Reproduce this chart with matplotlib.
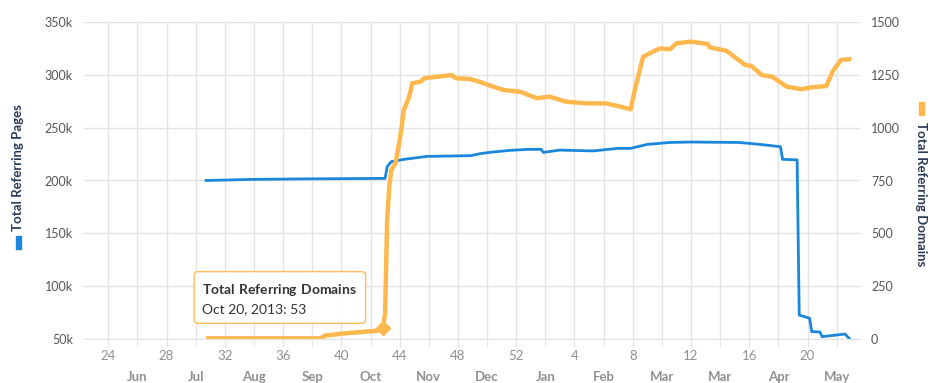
import pandas as pd
import matplotlib
matplotlib.use('Agg')
import matplotlib.pyplot as plt
from matplotlib.patches import Rectangle
from matplotlib.ticker import FuncFormatter, FixedLocator, MultipleLocator
import matplotlib.dates as mdates

plt.rcParams['font.family'] = ['Lato', 'DejaVu Sans']
plt.rcParams['mathtext.fontset'] = 'custom'
plt.rcParams['mathtext.bf'] = 'Lato:bold'
plt.rcParams['mathtext.rm'] = 'Lato'

# Total Referring Pages (left axis)
pages_dates = ['2013-07-27', '2013-08-17', '2013-09-10', '2013-10-21', '2013-10-22',
               '2013-10-24', '2013-10-30', '2013-11-10', '2013-12-01', '2013-12-06',
               '2013-12-12', '2013-12-20', '2013-12-28', '2014-01-04', '2014-01-05',
               '2014-01-13', '2014-01-22', '2014-01-29', '2014-02-10', '2014-02-16',
               '2014-02-24', '2014-03-07', '2014-03-17', '2014-04-09', '2014-04-19',
               '2014-04-29', '2014-04-30', '2014-05-07', '2014-05-08', '2014-05-13',
               '2014-05-14', '2014-05-18', '2014-05-19', '2014-05-30', '2014-06-01']
pages_vals = [200000, 201000, 201500, 202000, 213000,
              217800, 220000, 222800, 223500, 225500,
              227000, 228500, 229400, 229500, 226600,
              228800, 228300, 228000, 230400, 230400,
              234200, 236000, 236400, 236000, 234200,
              232000, 220000, 219500, 72700, 69600,
              57000, 56600, 52200, 54700, 50600]

# Total Referring Domains (right axis)
domains_dates = ['2013-07-28', '2013-09-20', '2013-09-22', '2013-10-02', '2013-10-12',
                 '2013-10-18', '2013-10-20', '2013-10-21', '2013-10-22', '2013-10-23',
                 '2013-10-24', '2013-10-26', '2013-10-28', '2013-10-29', '2013-10-30',
                 '2013-11-01', '2013-11-02', '2013-11-03', '2013-11-07', '2013-11-09',
                 '2013-11-15', '2013-11-22', '2013-11-24', '2013-12-01',
                 '2013-12-06', '2013-12-12', '2013-12-17', '2013-12-25', '2014-01-02',
                 '2014-01-08', '2014-01-16', '2014-01-26', '2014-02-04', '2014-02-10',
                 '2014-02-16', '2014-02-18', '2014-02-22', '2014-03-02', '2014-03-07',
                 '2014-03-10', '2014-03-17', '2014-03-25', '2014-03-26', '2014-04-03',
                 '2014-04-12', '2014-04-15', '2014-04-20', '2014-04-25', '2014-05-02',
                 '2014-05-09', '2014-05-14', '2014-05-21', '2014-05-24', '2014-05-28',
                 '2014-06-01']
domains_vals = [3, 3, 16, 27, 35,
                40, 53, 120, 560, 720,
                800, 831, 942, 1005, 1084,
                1131, 1163, 1210, 1218, 1234,
                1241, 1249, 1234, 1230,
                1215, 1194, 1178, 1170, 1139,
                1147, 1123, 1115, 1115, 1102,
                1087, 1178, 1336, 1375, 1371,
                1399, 1407, 1396, 1380, 1364,
                1297, 1292, 1249, 1241, 1194,
                1182, 1191, 1197, 1265, 1320,
                1324]

week_labels = ['24', '28', '32', '36', '40', '44', '48', '52', '4', '8', '12', '16', '20']
month_labels = ['Jun', 'Jul', 'Aug', 'Sep', 'Oct', 'Nov', 'Dec', 'Jan', 'Feb', 'Mar', 'Mar', 'Apr', 'May']

tip_date = '2013-10-20'
tip_val = 53

blue = '#1a87dc'
orange = '#ffb84d'
grid_c = '#e3e3e3'
title_c = '#2b3a55'

fig = plt.figure(figsize=(9.46, 3.83), dpi=100)
ax = fig.add_axes([84 / 946, 44 / 383, 776 / 946, 317 / 383])
ax2 = ax.twinx()

ax.plot(pd.to_datetime(pages_dates), pages_vals, color=blue, lw=2, solid_joinstyle='round')
ax2.plot(pd.to_datetime(domains_dates), domains_vals, color=orange, lw=3.2, solid_joinstyle='round')
ax2.plot(pd.to_datetime([tip_date]), [tip_val], marker='D', color=orange, ms=7)

ax.set_xlim(pd.Timestamp('2013-05-29 08:00'), pd.Timestamp('2014-06-06 05:00'))
ax.set_ylim(50000, 350000)
ax2.set_ylim(0, 1500)
ax.yaxis.set_major_locator(MultipleLocator(50000))
ax2.yaxis.set_major_locator(MultipleLocator(250))
ax.yaxis.set_major_formatter(FuncFormatter(lambda v, p: f'{int(v / 1000)}k'))

week_pos = mdates.date2num(pd.date_range('2013-06-10', periods=len(week_labels), freq='28D'))
month_pos = mdates.date2num(pd.date_range('2013-06-24', periods=len(month_labels), freq='28D'))
ax.xaxis.set_major_locator(FixedLocator(week_pos))
ax.xaxis.set_minor_locator(FixedLocator(month_pos))
ax.set_xticklabels(week_labels)
ax.set_xticklabels(month_labels, minor=True)
for lab in ax.get_xticklabels(minor=True):
    lab.set_fontweight('bold')

ax.grid(True, which='both', color=grid_c, lw=1)
ax.set_axisbelow(True)
for a in (ax, ax2):
    for s in a.spines.values():
        s.set_visible(False)
ax.spines['bottom'].set_visible(True)
ax.spines['bottom'].set_color(grid_c)

ax.tick_params(axis='x', which='major', length=6, color=grid_c, labelcolor='#909090', labelsize=9.5, pad=2)
ax.tick_params(axis='x', which='minor', length=6, color=grid_c, labelcolor='#909090', labelsize=9.5, pad=17)
ax.tick_params(axis='y', length=0, labelcolor='#555555', labelsize=9, pad=8)
ax2.tick_params(axis='y', length=0, labelcolor='#555555', labelsize=9, pad=8)

fig.text(18 / 946, 1 - 168 / 383, 'Total Referring Pages', rotation=90, ha='center', va='center',
         fontsize=9.5, fontweight='bold', color=title_c)
fig.text(921 / 946, 1 - 194 / 383, 'Total Referring Domains', rotation=270, ha='center', va='center',
         fontsize=9.5, fontweight='bold', color=title_c)
fig.add_artist(Rectangle((15.5 / 946, 1 - 249 / 383), 5 / 946, 13 / 383, color=blue, transform=fig.transFigure))
fig.add_artist(Rectangle((918.5 / 946, 1 - 115 / 383), 5 / 946, 13 / 383, color=orange, transform=fig.transFigure))

ax2.annotate('$\\mathbf{Total\\ Referring\\ Domains}$\nOct 20, 2013: ' + str(tip_val),
             xy=(mdates.date2num(pd.Timestamp(tip_date)), tip_val), xycoords='data',
             xytext=(-130, 33), textcoords='offset points', ha='left', va='top',
             fontsize=10, color='#333333', linespacing=1.5,
             bbox=dict(boxstyle='round,pad=0.6,rounding_size=0.3', fc='white', ec=orange, lw=1, alpha=0.95))

fig.savefig('out.png', dpi=100)
